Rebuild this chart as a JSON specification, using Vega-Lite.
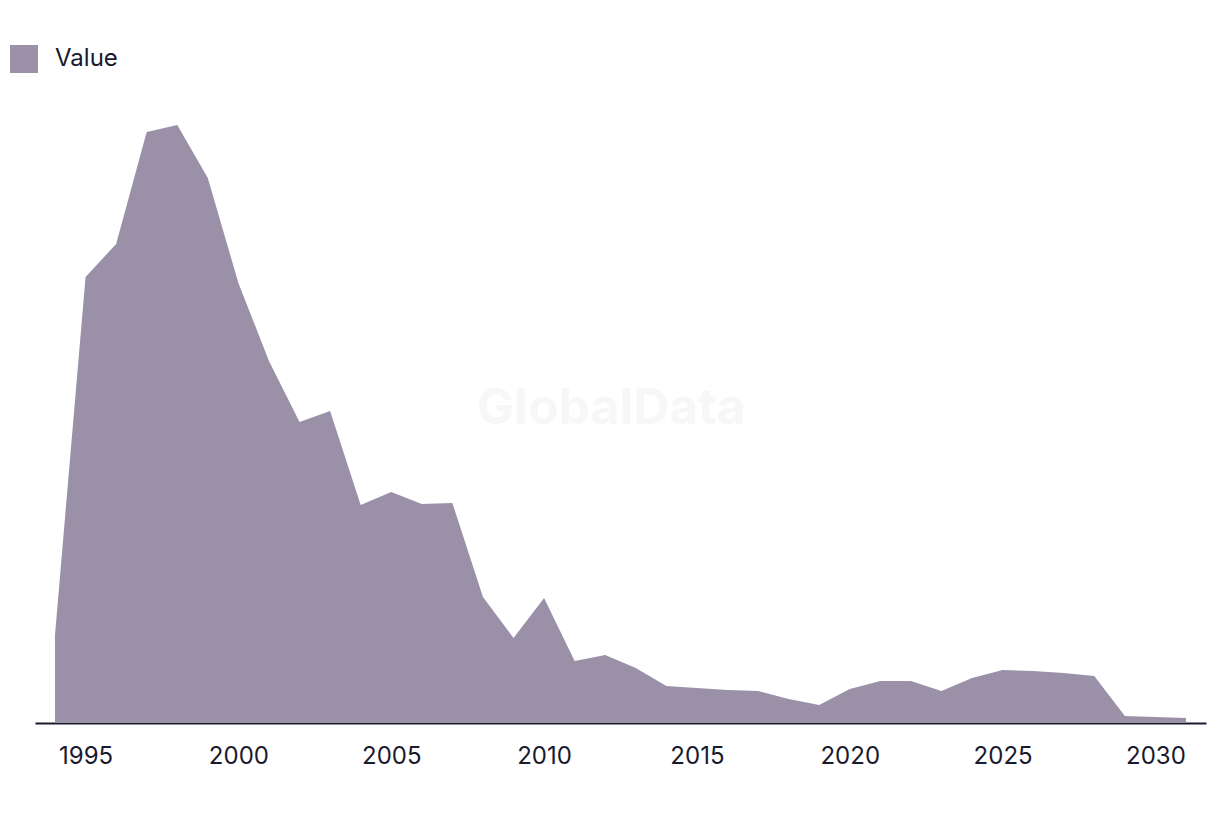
{
  "$schema": "https://vega.github.io/schema/vega-lite/v6.json",
  "width": 1171,
  "height": 623,
  "autosize": "none",
  "padding": {"left": 35, "top": 100, "right": 14, "bottom": 91},
  "background": "#ffffff",
  "config": {"view": {"stroke": null}, "font": "Inter"},
  "data": {"values": [
    {"year": 1994, "value": 88, "series": "Value"},
    {"year": 1995, "value": 446, "series": "Value"},
    {"year": 1996, "value": 479, "series": "Value"},
    {"year": 1997, "value": 591, "series": "Value"},
    {"year": 1998, "value": 598, "series": "Value"},
    {"year": 1999, "value": 545, "series": "Value"},
    {"year": 2000, "value": 440, "series": "Value"},
    {"year": 2001, "value": 362, "series": "Value"},
    {"year": 2002, "value": 301, "series": "Value"},
    {"year": 2003, "value": 312, "series": "Value"},
    {"year": 2004, "value": 218, "series": "Value"},
    {"year": 2005, "value": 231, "series": "Value"},
    {"year": 2006, "value": 219, "series": "Value"},
    {"year": 2007, "value": 220, "series": "Value"},
    {"year": 2008, "value": 126, "series": "Value"},
    {"year": 2009, "value": 85, "series": "Value"},
    {"year": 2010, "value": 125, "series": "Value"},
    {"year": 2011, "value": 62, "series": "Value"},
    {"year": 2012, "value": 68, "series": "Value"},
    {"year": 2013, "value": 55, "series": "Value"},
    {"year": 2014, "value": 37, "series": "Value"},
    {"year": 2015, "value": 35, "series": "Value"},
    {"year": 2016, "value": 33, "series": "Value"},
    {"year": 2017, "value": 32, "series": "Value"},
    {"year": 2018, "value": 24, "series": "Value"},
    {"year": 2019, "value": 18, "series": "Value"},
    {"year": 2020, "value": 34, "series": "Value"},
    {"year": 2021, "value": 42, "series": "Value"},
    {"year": 2022, "value": 42, "series": "Value"},
    {"year": 2023, "value": 32, "series": "Value"},
    {"year": 2024, "value": 45, "series": "Value"},
    {"year": 2025, "value": 53, "series": "Value"},
    {"year": 2026, "value": 52, "series": "Value"},
    {"year": 2027, "value": 50, "series": "Value"},
    {"year": 2028, "value": 47, "series": "Value"},
    {"year": 2029, "value": 7, "series": "Value"},
    {"year": 2030, "value": 6, "series": "Value"},
    {"year": 2031, "value": 5, "series": "Value"}
  ]},
  "layer": [
    {
      "mark": {"type": "area", "interpolate": "linear"},
      "encoding": {
        "x": {
          "field": "year",
          "type": "quantitative",
          "scale": {"domain": [1993.346, 2031.654], "nice": false, "zero": false},
          "axis": {
            "title": null,
            "values": [1995, 2000, 2005, 2010, 2015, 2020, 2025, 2030],
            "format": "d",
            "grid": false,
            "ticks": false,
            "domainColor": "#1a1a2e",
            "domainWidth": 2,
            "labelFontSize": 24,
            "labelColor": "#1a1a2e",
            "labelPadding": 21,
            "labelFont": "Inter"
          }
        },
        "y": {
          "field": "value",
          "type": "quantitative",
          "scale": {"domain": [0, 623], "nice": false},
          "axis": null
        },
        "color": {
          "field": "series",
          "type": "nominal",
          "scale": {"range": ["#9A91A9"]},
          "legend": {
            "title": null,
            "orient": "none",
            "legendX": -25,
            "legendY": -55,
            "symbolType": "square",
            "symbolSize": 784,
            "symbolStrokeWidth": 0,
            "symbolOpacity": 1,
            "labelFontSize": 24,
            "labelColor": "#1a1a2e",
            "labelFont": "Inter",
            "labelOffset": 17
          }
        }
      }
    },
    {
      "transform": [{"filter": "datum.year === 1994"}],
      "mark": {"type": "text", "font": "Inter", "fontWeight": "bold", "fontSize": 50, "color": "#f7f7f7"},
      "encoding": {
        "x": {"datum": 2012.2},
        "y": {"datum": 314},
        "text": {"value": "GlobalData"}
      }
    }
  ]
}
